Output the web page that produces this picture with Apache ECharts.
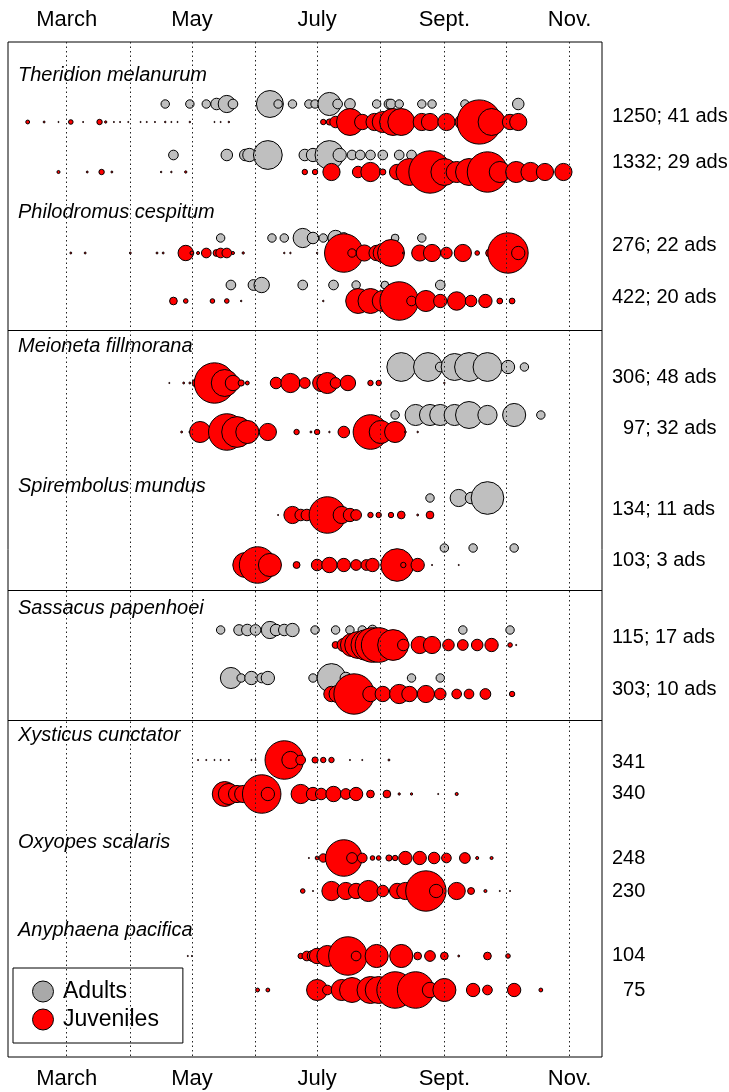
<!DOCTYPE html>
<html><head><meta charset="utf-8">
<script src="https://cdn.jsdelivr.net/npm/echarts@6/dist/echarts.min.js"></script>
<style>html,body{margin:0;padding:0;background:#fff}#c{width:729px;height:1092px}</style>
</head><body><div id="c"></div><script>
// ---------- DATA ----------
// x = day of year, n = relative abundance (bubble area)
const monthTickDays = [60, 121, 182, 244, 305];
const monthTickLabels = ['March', 'May', 'July', 'Sept.', 'Nov.'];
const monthStartDays = [60, 91, 121, 152, 182, 213, 244, 274, 305];

const speciesNames = ['Theridion melanurum', 'Philodromus cespitum', 'Meioneta fillmorana', 'Spirembolus mundus',
  'Sassacus papenhoei', 'Xysticus cunctator', 'Oxyopes scalaris', 'Anyphaena pacifica'];
const rowTotals = [1250, 1332, 276, 422, 306, 97, 134, 103, 115, 303, 341, 340, 248, 230, 104, 75];
const rowAdults = [41, 29, 22, 20, 48, 32, 11, 3, 17, 10, null, null, null, null, null, null];

const thMel1Ads = [[108,4.8],[120,4.8],[128,4.8],[133,9],[138,20],[141,6.3],[159,49],[163,4.8],[170,4.8],[178,4.8],[181,4.8],[188,36],[192,6.3],[198,7.8],[211,4.8],[217,6.3],[218,6.3],[222,4.8],[233,4.8],[238,4.8],[254,4.8],[280,9]];
const thMel1Juv = [[41,1],[49,0.25],[56,0.09],[62,1.44],[68,0.09],[76,1.96],[79,0.36],[83,0.09],[86,0.09],[90,0.09],[96,0.09],[99,0.09],[103,0.09],[108,0.16],[111,0.09],[114,0.09],[120,0.16],[132,0.09],[135,0.09],[139,0.16],[185,1.96],[188,2.56],[191,9],[198,49],[204,16],[210,20],[214,30],[219,49],[223,49],[233,20],[237,20],[245,20],[253,16],[261,132],[267,49],[276,16],[280,20]];
const thMel2Ads = [[112,6.3],[138,9],[147,9],[149,12],[158,56],[176,9],[180,12],[188,56],[193,12],[199,6.3],[203,6.3],[208,6.3],[214,6.3],[222,6.3],[228,6.3]];
const thMel2Juv = [[56,0.64],[70,0.25],[77,1.96],[82,0.25],[106,0.16],[111,0.16],[118,0.36],[176,1.96],[181,1.96],[189,20],[202,9],[208,25],[214,2.56],[221,16],[227,49],[237,121],[244,49],[250,30],[256,49],[265,110],[271,30],[279,30],[286,25],[293,20],[302,20]];
const phCes1Ads = [[135,4.8],[160,4.8],[166,4.8],[175,25],[180,9],[185,4.8],[191,16],[195,7.8],[220,4],[233,4.8]];
const phCes1Juv = [[62,0.25],[69,0.25],[91,0.25],[104,0.25],[107,0.25],[118,16],[121,1],[124,0.64],[128,6.3],[133,3.2],[135,6.3],[138,6.3],[141,0.64],[146,0.36],[166,0.16],[169,0.16],[182,0.16],[195,100],[199,4.8],[205,17.6],[211,16],[214,25],[218,49],[224,0.25],[232,17.6],[238,20],[245,9],[253,20],[260,1.44],[266,4],[275,110],[280,12]];
const phCes2Ads = [[140,6.3],[151,7.8],[155,16],[175,6.3],[190,6.3],[201,4.8],[215,4],[242,6.3]];
const phCes2Juv = [[112,4],[118,1.44],[131,1.44],[138,1.44],[145,0.16],[185,0.16],[202,42],[208,42],[214,30],[222,100],[228,6.3],[235,30],[242,12],[250,23],[257,9],[264,12],[271,2.25],[277,2.25]];
const meFil1Ads = [[223,56],[236,56],[242,6.3],[249,49],[256,56],[265,56],[275,12],[283,4.8]];
const meFil1Juv = [[110,0.09],[117,0.25],[120,0.25],[123,4],[132,110],[137,49],[141,16],[145,2.56],[148,1],[162,9],[169,25],[176,7.8],[184,20],[187,30],[191,7.8],[197,16],[208,1.96],[212,1.96],[244,0.16]];
const meFil2Ads = [[220,4.8],[230,30],[237,30],[242,30],[249,30],[256,49],[265,25],[278,36],[291,4.8]];
const meFil2Juv = [[116,0.25],[120,0.25],[125,30],[138,90],[143,64],[148,36],[158,20],[172,1.96],[179,0.25],[182,1.96],[188,0.16],[195,9],[208,81],[213,36],[220,30],[225,0.25],[231,0.16]];
const spMun1Ads = [[237,4.8],[251,20],[257,9],[265,72]];
const spMun1Juv = [[163,0.09],[170,20],[174,9],[177,9],[187,90],[194,20],[198,12],[201,7.8],[208,1.96],[212,1.96],[218,1.96],[223,4],[231,0.25],[237,4]];
const spMun2Ads = [[244,4.8],[258,4.8],[278,4.8]];
const spMun2Juv = [[147,42],[153,90],[159,36],[172,3.2],[182,9],[188,16],[195,12],[201,7.8],[206,7.8],[209,12],[221,72],[224,1.96],[231,12],[238,0.09],[251,0.09]];
const saPap1Ads = [[135,4.8],[144,7.8],[148,9],[152,7.8],[159,20],[162,9],[166,9],[170,12],[181,4.8],[191,4.8],[198,4.8],[204,4.8],[209,6.3],[253,4.8],[276,4.8]];
const saPap1Juv = [[191,3.2],[195,12],[199,36],[202,49],[206,64],[209,81],[212,81],[219,64],[224,9],[232,20],[238,20],[246,9],[253,7.8],[260,9],[267,12],[276,1.44],[279,0.09]];
const saPap2Ads = [[140,30],[145,4.8],[150,12],[155,6.3],[158,12],[180,4.8],[189,56],[196,9],[228,4.8],[242,4.8]];
const saPap2Juv = [[186,0.25],[189,16],[192,20],[200,110],[208,16],[214,16],[222,25],[227,16],[235,20],[242,9],[250,6.3],[256,6.3],[264,7.8],[277,1.96]];
const xyCun1Juv = [[124,0.09],[128,0.09],[132,0.09],[135,0.09],[139,0.09],[150,0.09],[152,0.09],[166,100],[169,20],[174,6.3],[181,2.56],[185,1.96],[189,1.96],[198,0.09],[204,0.09],[217,0.25]];
const xyCun2Juv = [[137,42],[139,30],[143,20],[146,20],[155,100],[158,12],[174,25],[180,12],[184,9],[190,16],[196,7.8],[201,12],[208,4],[216,4],[222,0.36],[228,0.36],[241,0.09],[250,0.64]];
const oxSca1Juv = [[178,0.09],[182,1],[185,4.8],[195,90],[199,7.8],[204,6.3],[209,1.44],[212,1.44],[217,2.56],[220,1.96],[225,12],[232,12],[239,9],[245,6.3],[254,7.8],[260,0.64],[267,0.64]];
const oxSca2Juv = [[175,1.44],[180,0.09],[189,25],[196,20],[201,16],[207,30],[214,9],[221,16],[225,20],[235,110],[240,12],[250,20],[257,3.2],[264,0.64],[271,0.09],[276,0.09]];
const anPac1Juv = [[119,0.09],[121,0.09],[174,1.96],[177,6.3],[180,9],[182,16],[187,30],[197,100],[201,6.3],[211,36],[223,36],[231,4],[237,7.8],[244,4],[251,0.25],[265,4],[275,1.44]];
const anPac2Juv = [[153,1],[158,1],[182,30],[187,6.3],[194,30],[199,42],[208,49],[212,49],[220,90],[230,90],[237,16],[244,36],[258,12],[265,6.3],[278,12],[291,1]];

const adultRows = [thMel1Ads, thMel2Ads, phCes1Ads, phCes2Ads, meFil1Ads, meFil2Ads, spMun1Ads, spMun2Ads, saPap1Ads, saPap2Ads, [], [], [], [], [], []];
const juvRows = [thMel1Juv, thMel2Juv, phCes1Juv, phCes2Juv, meFil1Juv, meFil2Juv, spMun1Juv, spMun2Juv, saPap1Juv, saPap2Juv, xyCun1Juv, xyCun2Juv, oxSca1Juv, oxSca2Juv, anPac1Juv, anPac2Juv];

// ---------- LAYOUT (vertical track positions on the y axis) ----------
const rowAdY = [62, 113, 196, 243, 325, 373, 456, 506, 588, 636, 0, 0, 0, 0, 0, 0];
const rowJuvY = [80, 130, 211, 259, 341, 390, 473, 523, 603, 652, 718, 752, 816, 849, 914, 948];
const rowLabelY = [74, 120, 203, 255, 335, 386, 467, 518, 595, 647, 720, 751, 816, 849, 913, 948];
const speciesY = [33, 170, 304, 444, 566, 693, 800, 888];
const separatorY = [288, 548, 678];

const X_MIN = 31.4, X_MAX = 320.8, Y_MAX = 1015;
const SIZE_K = 3.85;
const FONT = '"Liberation Sans", Arial, sans-serif';

const adultData = [], juvData = [];
adultRows.forEach((r, i) => r.forEach(p => adultData.push([p[0], rowAdY[i], p[1]])));
juvRows.forEach((r, i) => r.forEach(p => juvData.push([p[0], rowJuvY[i], p[1]])));

const chart = echarts.init(document.getElementById('c'), null, {renderer: 'canvas'});
const monthAxis = (pos) => ({
  type: 'value', position: pos, min: X_MIN, max: X_MAX,
  axisLine: {show: false}, axisTick: {show: false}, splitLine: {show: false},
  axisLabel: {
    customValues: monthTickDays, margin: 11, fontSize: 22, color: '#000', fontFamily: FONT,
    formatter: v => { const k = monthTickDays.indexOf(Math.round(v)); return k >= 0 ? monthTickLabels[k] : ''; }
  }
});
const bubbleSize = v => Math.sqrt(v[2]) * SIZE_K;

chart.setOption({
  animation: false,
  grid: {left: 8, top: 42, width: 594, height: 1015, show: true, borderColor: '#000', borderWidth: 1, backgroundColor: 'transparent'},
  xAxis: [monthAxis('top'), monthAxis('bottom')],
  yAxis: {type: 'value', inverse: true, min: 0, max: Y_MAX, show: false},
  legend: {
    left: 13, top: 968, orient: 'vertical', selectedMode: false,
    backgroundColor: '#fff', borderColor: '#000', borderWidth: 1, borderRadius: 0,
    padding: [12, 24, 12, 19], itemWidth: 30, itemHeight: 21, itemGap: 5, icon: 'circle',
    textStyle: {fontSize: 23, color: '#000', fontFamily: FONT},
    data: [{name: 'Adults', itemStyle: {color: '#a9a9a9', borderColor: '#000', borderWidth: 1}},
           {name: 'Juveniles', itemStyle: {color: '#ff0000', borderColor: '#000', borderWidth: 1}}]
  },
  series: [
    {name: 'Adults', type: 'scatter', xAxisIndex: 0, data: adultData, symbol: 'circle', symbolSize: bubbleSize,
     itemStyle: {color: '#bfbfbf', borderColor: '#000', borderWidth: 1, opacity: 1}, emphasis: {disabled: true}, z: 2},
    {name: 'Juveniles', type: 'scatter', xAxisIndex: 0, data: juvData, symbol: 'circle', symbolSize: bubbleSize,
     itemStyle: {color: '#ff0000', borderColor: '#000', borderWidth: 1, opacity: 1}, emphasis: {disabled: true}, z: 3},
    {name: 'lines', type: 'scatter', xAxisIndex: 0, data: [], z: 4, silent: true,
     markLine: {
       silent: true, symbol: 'none', label: {show: false}, animation: false,
       data: monthStartDays.map(d => ({xAxis: d, lineStyle: {type: [1.5, 3], color: '#222', width: 1}}))
         .concat(separatorY.map(y => ({yAxis: y, lineStyle: {type: 'solid', color: '#000', width: 1}})))
     }}
  ]
});

const gy = v => chart.convertToPixel({yAxisIndex: 0}, v);
const rightX = chart.convertToPixel({xAxisIndex: 0}, X_MAX) + 10;
const leftX = chart.convertToPixel({xAxisIndex: 0}, X_MIN) + 10;
const graphics = [];
speciesNames.forEach((s, i) => graphics.push({
  type: 'text', x: leftX, y: gy(speciesY[i]), z: 10,
  style: {text: s, fontSize: 20, fontStyle: 'italic', fontFamily: FONT, fill: '#000', verticalAlign: 'middle'}
}));
rowTotals.forEach((t, i) => {
  const num = (t < 100 ? '  ' : '') + t;
  const txt = rowAdults[i] == null ? num : num + '; ' + rowAdults[i] + ' ads';
  graphics.push({type: 'text', x: rightX, y: gy(rowLabelY[i]), z: 10,
    style: {text: txt, fontSize: 20, fontFamily: FONT, fill: '#000', verticalAlign: 'middle'}});
});
chart.setOption({graphic: graphics});
</script></body></html>
